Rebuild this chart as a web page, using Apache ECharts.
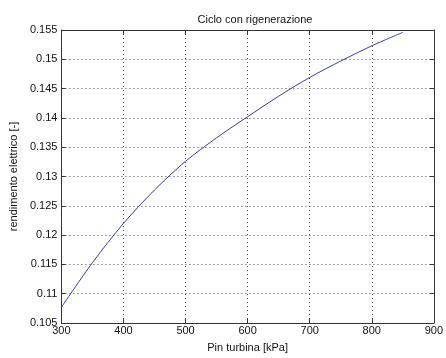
<!DOCTYPE html>
<html>
<head>
<meta charset="utf-8">
<script src="https://cdn.jsdelivr.net/npm/echarts@6/dist/echarts.min.js"></script>
<style>
html,body{margin:0;padding:0;background:#fff;}
#c{width:446px;height:358px;}
</style>
</head>
<body>
<div id="c"></div>
<script>
const titleText = "Ciclo con rigenerazione";
const xName = "Pin turbina [kPa]";
const yName = "rendimento elettrico [-]";
const pressure = [300, 350, 400, 450, 500, 550, 600, 650, 700, 750, 800, 850];
const efficiency = [0.1077, 0.1153, 0.1220, 0.1277, 0.1326, 0.1366, 0.1402, 0.1437, 0.1469, 0.1497, 0.1523, 0.1546];
const xTicks = [300, 400, 500, 600, 700, 800, 900];
const yTicks = [0.105, 0.11, 0.115, 0.12, 0.125, 0.13, 0.135, 0.14, 0.145, 0.15, 0.155];

const font = "'Liberation Sans', Arial, sans-serif";
const fmtY = v => parseFloat(Number(v).toFixed(3)).toString();

const chart = echarts.init(document.getElementById('c'), null, {renderer: 'canvas'});
const axisLine = {show: true, onZero: false, lineStyle: {color: '#333', width: 1}};
const tick = {show: true, inside: true, length: 4, lineStyle: {color: '#333'}};
const split = {show: true, lineStyle: {color: '#444', type: [1, 3], width: 1}};
const xMin = xTicks[0], xMax = xTicks[xTicks.length - 1];
const yMin = yTicks[0], yMax = yTicks[yTicks.length - 1];

chart.setOption({
  animation: false,
  backgroundColor: '#fff',
  title: {
    text: titleText, left: 250, top: 9, textAlign: 'center',
    textStyle: {fontFamily: font, fontSize: 11, fontWeight: 'normal', color: '#111'}
  },
  grid: {left: 61, right: 6, top: 30, bottom: 31, containLabel: false},
  xAxis: [{
    type: 'value', min: xMin, max: xMax, interval: 100, position: 'bottom',
    name: xName, nameLocation: 'middle', nameGap: 19,
    nameTextStyle: {fontFamily: font, fontSize: 11, color: '#111'},
    axisLine: axisLine, axisTick: tick, splitLine: split,
    axisLabel: {fontFamily: font, fontSize: 11, color: '#111', margin: 2, showMaxLabel: true, showMinLabel: true}
  }, {
    type: 'value', min: xMin, max: xMax, interval: 100, position: 'top',
    axisLine: axisLine, axisTick: tick, splitLine: {show: false}, axisLabel: {show: false}
  }],
  yAxis: [{
    type: 'value', min: yMin, max: yMax, interval: 0.005, position: 'left',
    name: yName, nameLocation: 'middle', nameGap: 36, nameRotate: 90,
    nameTextStyle: {fontFamily: font, fontSize: 11, color: '#111'},
    axisLine: axisLine, axisTick: tick, splitLine: split,
    axisLabel: {fontFamily: font, fontSize: 11, color: '#111', margin: 4, formatter: fmtY, showMaxLabel: true, showMinLabel: true}
  }, {
    type: 'value', min: yMin, max: yMax, interval: 0.005, position: 'right',
    axisLine: axisLine, axisTick: tick, splitLine: {show: false}, axisLabel: {show: false}
  }],
  series: [{
    type: 'line', xAxisIndex: 0, yAxisIndex: 0,
    data: pressure.map((p, i) => [p, efficiency[i]]),
    smooth: 0.3, showSymbol: false,
    lineStyle: {color: '#3a3aa0', width: 1}
  }]
});
</script>
</body>
</html>
